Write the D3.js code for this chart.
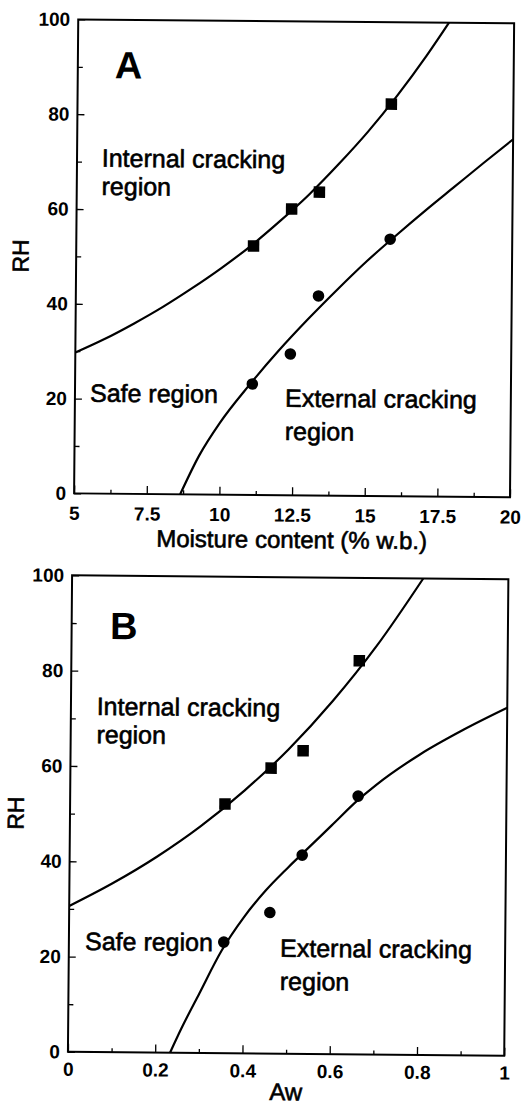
<!DOCTYPE html>
<html>
<head>
<meta charset="utf-8">
<script src="https://cdn.jsdelivr.net/npm/d3@7"></script>
<style>
  html, body { margin: 0; padding: 0; background: #fff; }
  svg { display: block; }
  text { font-family: "Liberation Sans", Arial, Helvetica, sans-serif; fill: #000; }
</style>
</head>
<body>
<svg id="chart" width="523" height="1105"></svg>
<script>
// ---------------- data ----------------
// Panel A : moisture content (% w.b.) vs RH
const mcPointsA = [11.1, 12.4, 13.35, 15.8];
const rhSquaresA = [52.5, 60.4, 64.0, 82.7];   // internal cracking boundary data
const rhCirclesA = [23.4, 29.8, 42.1, 54.2];   // external cracking boundary data
const upperCurveMcA = [5, 6, 7, 8, 9, 10, 11, 12, 13, 14, 15, 16, 17, 17.76];
const upperCurveRhA = [29.7, 32.6, 35.9, 39.5, 43.5, 47.8, 52.5, 57.8, 63.5, 69.9, 76.8, 84.5, 93, 100];
const lowerCurveMcA = [8.65, 9.3, 10, 11, 12, 13, 14, 15, 16, 17, 18, 19, 20];
const lowerCurveRhA = [0, 8.3, 15.2, 23.2, 30.5, 37.2, 43.5, 49.5, 55.0, 60.3, 65.4, 70.5, 75.5];

// Panel B : water activity vs RH
const awPointsB = [0.355, 0.46, 0.533, 0.66];
const rhSquaresB = [52.3, 59.9, 63.6, 82.6];
const rhCirclesB = [23.3, 29.6, 41.7, 54.2];
const upperCurveAwB = [0, 0.1, 0.2, 0.3, 0.4, 0.5, 0.6, 0.7, 0.805];
const upperCurveRhB = [30.6, 35.5, 41.1, 47.6, 55.2, 63.9, 74.1, 85.8, 100];
const lowerCurveAwB = [0.234, 0.26, 0.3, 0.35, 0.4, 0.45, 0.5, 0.55, 0.6, 0.66, 0.7, 0.8, 0.9, 1.0];
const lowerCurveRhB = [0, 5.2, 12.5, 21.5, 28.5, 34.2, 39.0, 43.5, 48.0, 53.4, 56.5, 63.0, 68.3, 73.0];

// ticks
const xTicksA = [5, 7.5, 10, 12.5, 15, 17.5, 20];
const xTickLabelsA = ["5", "7.5", "10", "12.5", "15", "17.5", "20"];
const xMinorA = [6.25, 8.75, 11.25, 13.75, 16.25, 18.75];
const xTicksB = [0, 0.2, 0.4, 0.6, 0.8, 1];
const xTickLabelsB = ["0", "0.2", "0.4", "0.6", "0.8", "1"];
const xMinorB = [0.1, 0.3, 0.5, 0.7, 0.9];
const yTicks = [0, 20, 40, 60, 80, 100];
const yMinor = [10, 30, 50, 70, 90];

// ---------------- drawing ----------------
const svg = d3.select("#chart");
const root = svg.append("g").attr("transform", "rotate(0.5, 261, 552)");

function panel(cfg) {
  const x = d3.scaleLinear().domain(cfg.xDomain).range([cfg.left, cfg.right]);
  const y = d3.scaleLinear().domain([0, 100]).range([cfg.bottom, cfg.top]);
  const g = root.append("g");

  const clipId = "clip" + cfg.id;
  svg.append("defs").append("clipPath").attr("id", clipId)
    .append("rect").attr("x", cfg.left).attr("y", cfg.top)
    .attr("width", cfg.right - cfg.left).attr("height", cfg.bottom - cfg.top);

  // minor ticks
  g.append("g").attr("transform", `translate(0,${cfg.bottom})`)
    .call(d3.axisBottom(x).tickValues(cfg.xMinor).tickSize(-4).tickFormat(""))
    .call(s => s.select(".domain").remove())
    .call(s => s.selectAll("line").attr("stroke-width", 1.3));
  g.append("g").attr("transform", `translate(${cfg.left},0)`)
    .call(d3.axisLeft(y).tickValues(yMinor).tickSize(-5).tickFormat(""))
    .call(s => s.select(".domain").remove())
    .call(s => s.selectAll("line").attr("stroke-width", 1.3));

  // major ticks + labels
  const xa = g.append("g").attr("transform", `translate(0,${cfg.bottom})`)
    .call(d3.axisBottom(x).tickValues(cfg.xTicks).tickSize(-8).tickPadding(10)
      .tickFormat((d, i) => cfg.xLabels[i]));
  xa.select(".domain").remove();
  xa.selectAll("line").attr("stroke-width", 1.3);
  xa.selectAll("text").attr("font-size", 19).attr("font-weight", "bold")
    .attr("font-family", "Liberation Sans, Arial, sans-serif").attr("dy", 0).attr("y", cfg.xLabelOffset);

  const ya = g.append("g").attr("transform", `translate(${cfg.left},0)`)
    .call(d3.axisLeft(y).tickValues(yTicks).tickSize(-7).tickPadding(8));
  ya.select(".domain").remove();
  ya.selectAll("line").attr("stroke-width", 1.3);
  ya.selectAll("text").attr("font-size", 19).attr("font-weight", "bold")
    .attr("font-family", "Liberation Sans, Arial, sans-serif");

  // frame
  g.append("rect").attr("x", cfg.left).attr("y", cfg.top)
    .attr("width", cfg.right - cfg.left).attr("height", cfg.bottom - cfg.top)
    .attr("fill", "none").attr("stroke", "#000").attr("stroke-width", 2);

  // curves
  const line = d3.line().x(d => x(d[0])).y(d => y(d[1])).curve(d3.curveMonotoneX);
  const cg = g.append("g").attr("clip-path", `url(#${clipId})`);
  [[cfg.upperX, cfg.upperY], [cfg.lowerX, cfg.lowerY]].forEach(([xs, ys]) => {
    cg.append("path").datum(xs.map((v, i) => [v, ys[i]]))
      .attr("d", line).attr("fill", "none").attr("stroke", "#000").attr("stroke-width", 2.2);
  });

  // points
  const sq = 11.5;
  g.selectAll(null).data(cfg.px.map((v, i) => [v, cfg.sqY[i]])).enter().append("rect")
    .attr("x", d => x(d[0]) - sq / 2).attr("y", d => y(d[1]) - sq / 2)
    .attr("width", sq).attr("height", sq).attr("fill", "#000");
  g.selectAll(null).data(cfg.px.map((v, i) => [v, cfg.ciY[i]])).enter().append("circle")
    .attr("cx", d => x(d[0])).attr("cy", d => y(d[1])).attr("r", 5.8).attr("fill", "#000");

  // panel letter
  g.append("text").attr("x", cfg.letterPos[0]).attr("y", cfg.letterPos[1])
    .attr("font-size", 38).attr("font-weight", "bold").text(cfg.letter);

  // region labels
  const lab = (t, xx, yy) => g.append("text").attr("x", xx).attr("y", yy)
    .attr("font-size", 25).attr("stroke", "#000").attr("stroke-width", 0.6).text(t);
  lab("Internal cracking", cfg.internal[0], cfg.internal[1]);
  lab("region", cfg.internal[0], cfg.internal[1] + 28.3);
  lab("Safe region", cfg.safe[0], cfg.safe[1]);
  lab("External cracking", cfg.external[0], cfg.external[1]);
  lab("region", cfg.external[0], cfg.external[1] + 33.3);

  // axis titles
  g.append("text").attr("x", (cfg.left + cfg.right) / 2).attr("y", cfg.xTitleY)
    .attr("text-anchor", "middle").attr("font-size", 24).attr("stroke", "#000").attr("stroke-width", 0.6)
    .text(cfg.xTitle);
  g.append("text").attr("transform", `translate(26,${(cfg.top + cfg.bottom) / 2}) rotate(-90)`)
    .attr("text-anchor", "middle").attr("font-size", 23).attr("stroke", "#000").attr("stroke-width", 0.6)
    .text("RH");
}

panel({
  id: "A", left: 73.6, right: 509.5, top: 21, bottom: 495,
  xDomain: [5, 20], xTicks: xTicksA, xLabels: xTickLabelsA, xMinor: xMinorA, xLabelOffset: 26.5,
  upperX: upperCurveMcA, upperY: upperCurveRhA, lowerX: lowerCurveMcA, lowerY: lowerCurveRhA,
  px: mcPointsA, sqY: rhSquaresA, ciY: rhCirclesA,
  letter: "A", letterPos: [110.5, 79.5],
  internal: [98.4, 168.1], safe: [88.7, 403.2], external: [283.7, 406.5],
  xTitle: "Moisture content (% w.b.)", xTitleY: 547.7
});

panel({
  id: "B", left: 72.3, right: 508.6, top: 577, bottom: 1053.5,
  xDomain: [0, 1], xTicks: xTicksB, xLabels: xTickLabelsB, xMinor: xMinorB, xLabelOffset: 24,
  upperX: upperCurveAwB, upperY: upperCurveRhB, lowerX: lowerCurveAwB, lowerY: lowerCurveRhB,
  px: awPointsB, sqY: rhSquaresB, ciY: rhCirclesB,
  letter: "B", letterPos: [110.8, 640.3],
  internal: [98.1, 716.4], safe: [88.5, 951.5], external: [283.6, 956.5],
  xTitle: "Aw", xTitleY: 1100
});
</script>
</body>
</html>
